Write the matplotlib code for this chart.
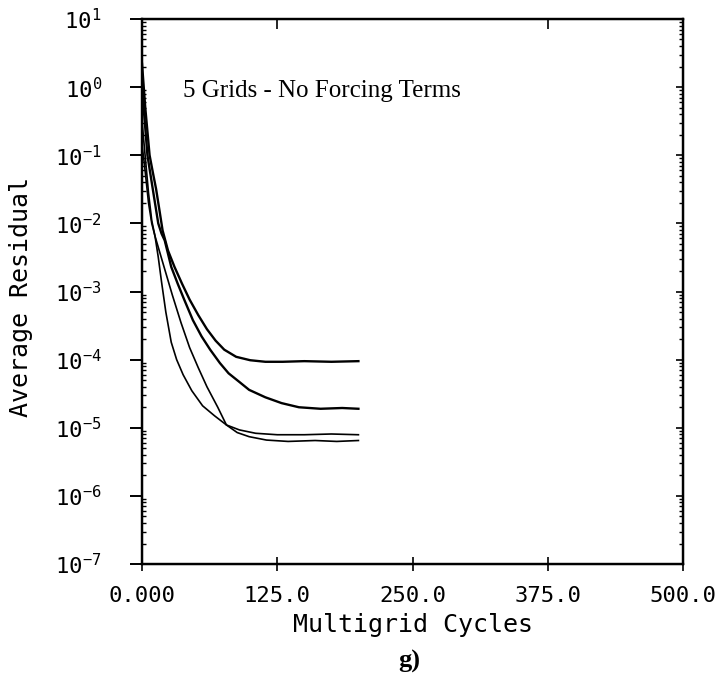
import numpy as np
import matplotlib
matplotlib.use("Agg")
import matplotlib.pyplot as plt
from matplotlib.ticker import LogLocator, FixedLocator, FuncFormatter, NullFormatter

# --- data (residual vs multigrid cycle) ---
cyc_a = [0, 3, 7, 10, 13, 16, 19, 24, 30, 37, 44, 52, 60, 68, 76, 87, 100, 114, 130, 150, 175, 200]
res_a = [2.2, 0.50, 0.10, 0.056, 0.032, 0.016, 7.9e-3, 4.0e-3, 2.3e-3, 1.3e-3, 7.6e-4, 4.5e-4,
         2.8e-4, 1.9e-4, 1.4e-4, 1.1e-4, 9.8e-5, 9.3e-5, 9.3e-5, 9.5e-5, 9.3e-5, 9.5e-5]

cyc_b = [0, 2, 5, 8, 11, 15, 18, 21, 27, 33, 39, 47, 55, 63, 72, 80, 90, 99, 114, 129, 145, 165, 185, 200]
res_b = [1.25, 0.40, 0.10, 0.050, 0.025, 0.010, 7.1e-3, 5.6e-3, 2.3e-3, 1.3e-3, 7.6e-4, 3.8e-4,
         2.2e-4, 1.4e-4, 8.9e-5, 6.3e-5, 4.7e-5, 3.6e-5, 2.8e-5, 2.3e-5, 2.0e-5, 1.9e-5, 1.95e-5, 1.9e-5]

cyc_c = [0, 2, 4, 6, 9, 12, 20, 28, 36, 44, 52, 60, 70, 78, 88, 99, 115, 135, 160, 180, 200]
res_c = [0.32, 0.14, 0.063, 0.028, 0.011, 6.5e-3, 2.4e-3, 8.9e-4, 3.5e-4, 1.5e-4, 7.6e-5, 4.0e-5,
         2.0e-5, 1.1e-5, 8.5e-6, 7.4e-6, 6.6e-6, 6.3e-6, 6.5e-6, 6.3e-6, 6.5e-6]

cyc_d = [0, 2, 4, 6, 9, 12, 15, 18, 22, 27, 32, 38, 46, 56, 67, 78, 90, 105, 125, 150, 175, 200]
res_d = [0.14, 0.079, 0.040, 0.020, 0.010, 6.5e-3, 3.2e-3, 1.4e-3, 5.0e-4, 1.8e-4, 1.0e-4, 6.0e-5,
         3.5e-5, 2.1e-5, 1.5e-5, 1.1e-5, 9.3e-6, 8.3e-6, 7.9e-6, 7.9e-6, 8.1e-6, 7.9e-6]

xticks = [0, 125, 250, 375, 500]
xticklabels = ["0.000", "125.0", "250.0", "375.0", "500.0"]
top_ticks = [125, 375]

plt.rcParams["font.family"] = ["DejaVu Sans Mono"]
plt.rcParams["mathtext.fontset"] = "custom"
plt.rcParams["mathtext.rm"] = "DejaVu Sans Mono"
plt.rcParams["mathtext.it"] = "DejaVu Sans Mono"

fig = plt.figure(figsize=(7.22, 6.83), dpi=100)
ax = fig.add_axes([0.1967, 0.1742, 0.7493, 0.7980])

ax.plot(cyc_a, res_a, color="black", lw=1.7)
ax.plot(cyc_b, res_b, color="black", lw=1.7)
ax.plot(cyc_c, res_c, color="black", lw=1.2)
ax.plot(cyc_d, res_d, color="black", lw=1.2)

ax.set_yscale("log")
ax.set_xlim(0, 500)
ax.set_ylim(1e-7, 1e1)

for s in ax.spines.values():
    s.set_linewidth(1.6)

# x axis
ax.set_xticks(xticks)
ax.set_xticklabels(xticklabels)
ax.tick_params(axis="x", direction="inout", length=10, width=1.2, pad=11, labelsize=16)

# y axis: majors out, minors in
ax.yaxis.set_major_locator(LogLocator(base=10, numticks=20))
ax.yaxis.set_minor_locator(LogLocator(base=10, subs=np.arange(2, 10), numticks=20))
ax.yaxis.set_minor_formatter(NullFormatter())
ax.yaxis.set_major_formatter(FuncFormatter(lambda v, p: "10$^{%d}$" % round(np.log10(v))))
ax.tick_params(axis="y", which="major", direction="out", length=9, width=1.4, pad=20, labelsize=16)
ax.tick_params(axis="y", which="minor", direction="in", length=3, width=1.0)

# right side ticks (inward, no labels)
axr = ax.twinx()
axr.set_yscale("log")
axr.set_ylim(1e-7, 1e1)
axr.yaxis.set_minor_locator(LogLocator(base=10, subs=np.arange(2, 10), numticks=20))
axr.yaxis.set_minor_formatter(NullFormatter())
axr.tick_params(axis="y", which="major", direction="in", length=5, width=1.2, labelright=False)
axr.tick_params(axis="y", which="minor", direction="in", length=3, width=1.0)
for s in axr.spines.values():
    s.set_linewidth(1.6)

# top ticks
axt = ax.twiny()
axt.set_xlim(0, 500)
axt.xaxis.set_major_locator(FixedLocator(top_ticks))
axt.tick_params(axis="x", direction="in", length=7, width=1.2, labeltop=False)

ax.set_xlabel("Multigrid Cycles", fontsize=18)
ax.xaxis.set_label_coords(0.5, -0.09)
ax.set_ylabel("Average Residual", fontsize=18)
ax.yaxis.set_label_coords(-0.2015, 0.49)

ax.text(0.076, 0.868, "5 Grids - No Forcing Terms", transform=ax.transAxes,
        family="Liberation Serif", fontsize=18, va="center", ha="left")

fig.text(0.567, 0.031, "g)", family="Liberation Serif", fontweight="bold",
         fontsize=19, ha="center", va="center")

fig.savefig("out.png", dpi=100)
